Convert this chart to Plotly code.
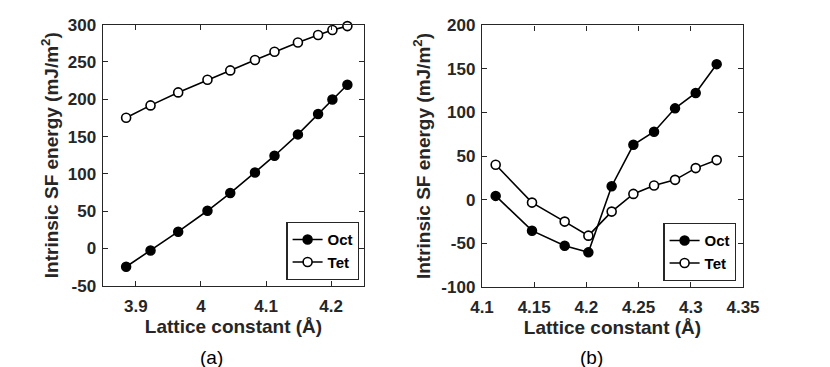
import plotly.graph_objects as go

# ---- data: panel (a)
a_x = [3.885, 3.9225, 3.965, 4.010, 4.045, 4.083, 4.113, 4.149, 4.180, 4.202, 4.225]
a_oct = [-24.6, -2.7, 22.4, 50.5, 74.2, 101.9, 124.3, 152.9, 180.2, 199.8, 219.5]
a_tet = [175.2, 191.8, 209.2, 226.2, 238.7, 252.6, 263.7, 276.2, 286.1, 292.8, 298.1]

# ---- data: panel (b)
b_x = [4.1131, 4.1479, 4.1792, 4.2019, 4.2242, 4.2450, 4.2648, 4.2849, 4.3047, 4.3248]
b_oct = [4.2, -35.7, -53.0, -60.6, 15.3, 62.9, 77.9, 104.7, 122.4, 155.4]
b_tet = [39.9, -3.5, -25.3, -41.4, -13.8, 6.5, 16.1, 22.6, 36.1, 45.3]

# ---- ticks
a_xticks = [3.9, 4.0, 4.1, 4.2]
a_xticktext = ["3.9", "4", "4.1", "4.2"]
a_yticks = [-50, 0, 50, 100, 150, 200, 250, 300]
a_yticktext = ["-50", "0", "50", "100", "150", "200", "250", "300"]
b_xticks = [4.1, 4.15, 4.2, 4.25, 4.3, 4.35]
b_xticktext = ["4.1", "4.15", "4.2", "4.25", "4.3", "4.35"]
b_yticks = [-100, -50, 0, 50, 100, 150, 200]
b_yticktext = ["-100", "-50", "0", "50", "100", "150", "200"]

series_names = ["Oct", "Tet"]
captions = ["(a)", "(b)"]

FONT = "Liberation Sans, Arial, sans-serif"
AX = "#262626"
W, H = 830, 367
OFF = 8  # page body margin offset in px

def px_x(p):
    return (p - OFF) / W

def px_y(p):
    return 1 - (p - OFF) / H

fig = go.Figure()

def add_pair(x, oct_y, tet_y, xa, ya, legend):
    fig.add_trace(go.Scatter(
        x=x, y=oct_y, name=series_names[0], xaxis=xa, yaxis=ya, legend=legend,
        mode="lines+markers", cliponaxis=False,
        line=dict(color="black", width=1.6),
        marker=dict(symbol="circle", size=9, color="black", line=dict(color="black", width=1.5)),
    ))
    fig.add_trace(go.Scatter(
        x=x, y=tet_y, name=series_names[1], xaxis=xa, yaxis=ya, legend=legend,
        mode="lines+markers", cliponaxis=False,
        line=dict(color="black", width=1.6),
        marker=dict(symbol="circle", size=9, color="white", line=dict(color="black", width=1.6)),
    ))

add_pair(a_x, a_oct, a_tet, "x", "y", "legend")
add_pair(b_x, b_oct, b_tet, "x2", "y2", "legend2")

tickfont = dict(family=FONT, size=17, color=AX, weight="bold")
titlefont = dict(family=FONT, size=19, color=AX, weight="bold")
ytitle = "Intrinsic SF energy (mJ/m<sup>2</sup>)"
xtitle = "Lattice constant (Å)"

common = dict(showline=True, linecolor=AX, linewidth=1.4, mirror="ticks",
              ticks="inside", ticklen=5, tickwidth=1.3, tickcolor=AX,
              showgrid=False, zeroline=False, tickfont=tickfont, tickmode="array",
              automargin=False)

legfont = dict(family=FONT, size=15, color="black", weight="bold")

fig.update_layout(
    width=W, height=H,
    margin=dict(l=0, r=0, t=0, b=0),
    paper_bgcolor="white", plot_bgcolor="white",
    xaxis=dict(domain=[px_x(102.7), px_x(364.3)], range=[3.849, 4.251], anchor="y",
               tickvals=a_xticks, ticktext=a_xticktext, ticklabelstandoff=5,
               title=dict(text=xtitle, font=titlefont, standoff=2), **common),
    yaxis=dict(domain=[px_y(285.7), px_y(24.7)], range=[-50, 300], anchor="x",
               tickvals=a_yticks, ticktext=a_yticktext, ticklabelstandoff=2,
               title=dict(text=ytitle, font=titlefont, standoff=4), **common),
    xaxis2=dict(domain=[px_x(482), px_x(743)], range=[4.1, 4.35], anchor="y2",
                tickvals=b_xticks, ticktext=b_xticktext, ticklabelstandoff=5,
                title=dict(text=xtitle, font=titlefont, standoff=2), **common),
    yaxis2=dict(domain=[px_y(286.7), px_y(25.3)], range=[-100, 200], anchor="x2",
                tickvals=b_yticks, ticktext=b_yticktext, ticklabelstandoff=2,
                title=dict(text=ytitle, font=titlefont, standoff=5), **common),
    legend=dict(x=px_x(359.3), y=px_y(280), xanchor="right", yanchor="bottom",
                bgcolor="white", bordercolor=AX, borderwidth=1.3,
                font=legfont, itemwidth=30, tracegroupgap=0),
    legend2=dict(x=px_x(736.3), y=px_y(281), xanchor="right", yanchor="bottom",
                 bgcolor="white", bordercolor=AX, borderwidth=1.3,
                 font=legfont, itemwidth=30, tracegroupgap=0),
    annotations=[
        dict(text=captions[0], x=px_x(211.7), y=px_y(357), xref="paper", yref="paper",
             xanchor="center", yanchor="middle", showarrow=False,
             font=dict(family=FONT, size=19, color="black")),
        dict(text=captions[1], x=px_x(591.7), y=px_y(357), xref="paper", yref="paper",
             xanchor="center", yanchor="middle", showarrow=False,
             font=dict(family=FONT, size=19, color="black")),
    ],
)

fig.write_html("out.html")
